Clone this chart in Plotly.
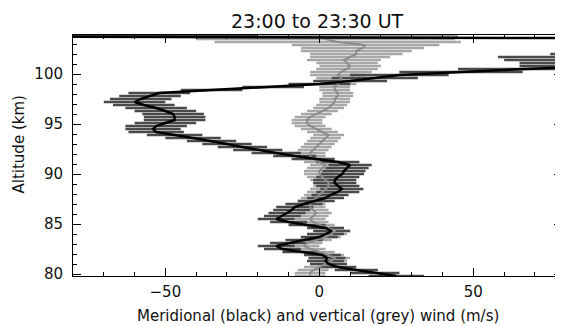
import plotly.graph_objects as go

# Altitude grid (km)
altitude = [79.8, 80.1, 80.4, 80.7, 81.0, 81.3, 81.6, 81.9, 82.2, 82.5,
            82.8, 83.1, 83.4, 83.7, 84.0, 84.3, 84.6, 84.9, 85.2, 85.5,
            85.8, 86.1, 86.4, 86.7, 87.0, 87.3, 87.6, 87.9, 88.2, 88.5,
            88.8, 89.1, 89.4, 89.7, 90.0, 90.3, 90.6, 90.9, 91.2, 91.5,
            91.8, 92.1, 92.4, 92.7, 93.0, 93.3, 93.6, 93.9, 94.2, 94.5,
            94.8, 95.1, 95.4, 95.7, 96.0, 96.3, 96.6, 96.9, 97.2, 97.5,
            97.8, 98.1, 98.4, 98.7, 99.0, 99.3, 99.6, 99.9, 100.2, 100.5,
            100.8, 101.1, 101.4, 101.7, 102.0, 102.3, 102.6, 102.9, 103.2, 103.5,
            103.8]

# Meridional wind (m/s) and its uncertainty
meridional = [25, 18, 12, 6, 3, 2, 2.5, 1, -6, -12,
              -14, -10, -5, 0, 2, 4, 2, -4, -10, -14,
              -12, -10.5, -9, -8, -5, -1, 2, 3.5, 6, 7.3,
              6, 5, 5, 6, 7.5, 8, 9, 10, 6, -2,
              -8, -14, -20, -25, -30, -35, -41, -47, -53, -54,
              -53, -50, -47, -47, -47.5, -50, -53, -57, -60, -58,
              -55, -52, -35, -15, 0, 10, 18, 26, 46, 70,
              95, 110, 105, 100, 110, 130, 140, 150, 160, 170,
              -150]
meridional_err = [9, 8, 7, 6, 6, 6, 6, 6, 6, 6,
                  6, 6, 6, 6, 6, 6, 6, 6, 6, 6,
                  6, 6, 6, 6, 6, 6, 6, 6, 7, 7,
                  7, 7, 7, 7, 7, 7, 7, 7, 7, 7,
                  7, 8, 8, 8, 8, 8, 9, 9, 9, 9,
                  10, 10, 10, 10, 10, 10, 10, 10, 10, 10,
                  10, 10, 10, 10, 10, 12, 14, 16, 20, 25,
                  30, 45, 45, 42, 35, 40, 40, 40, 50, 60,
                  130]

# Vertical wind (m/s) and its uncertainty
vertical = [-3, -3, -2, 0, 2, 4, 5, 3, 0, -3,
            -5, -4, -1, 2, 4, 5, 3, 0, -2, -3,
            -2, -1, -2, -3, -3, -2, -1, 0, 1, 2,
            3, 3, 2, 1, 0, 0, 1, 2, 0, -2,
            -3, -3, -2, -1, 0, 1, 2, 3, 1, -1,
            -3, -4, -4, -3, -1, 1, 3, 4, 5, 5,
            6, 6, 5, 5, 6, 7, 7, 6, 7, 9,
            10, 9, 8, 10, 12, 12, 14, 15, 6, 2,
            0]
vertical_err = [5, 5, 5, 5, 5, 5, 5, 5, 5, 5,
                5, 5, 5, 5, 5, 5, 5, 5, 5, 5,
                5, 5, 5, 5, 5, 5, 5, 5, 5, 5,
                5, 5, 5, 5, 5, 5, 5, 5, 5, 5,
                5, 5, 5, 5, 5, 5, 5, 5, 5, 5,
                5, 5, 5, 5, 5, 5, 5, 5, 5, 5,
                5, 5, 5, 5, 6, 7, 8, 9, 10, 10,
                10, 10, 12, 13, 15, 18, 20, 24, 40, 42,
                45]

title_text = "23:00 to 23:30 UT"
x_title = "Meridional (black) and vertical (grey) wind (m/s)"
y_title = "Altitude (km)"

FONT = "DejaVu Sans"

fig = go.Figure()

# vertical wind error bars (light grey)
fig.add_trace(go.Scatter(
    x=vertical, y=altitude, mode="markers",
    marker=dict(size=0.1, color="rgba(0,0,0,0)"),
    error_x=dict(type="data", array=vertical_err, symmetric=True,
                 width=0, thickness=2.5, color="#a8a8a8"),
    hoverinfo="skip", showlegend=False))

# meridional wind error bars (dark grey)
fig.add_trace(go.Scatter(
    x=meridional, y=altitude, mode="markers",
    marker=dict(size=0.1, color="rgba(0,0,0,0)"),
    error_x=dict(type="data", array=meridional_err, symmetric=True,
                 width=0, thickness=2.5, color="#4a4a4a"),
    hoverinfo="skip", showlegend=False))

# vertical wind line
fig.add_trace(go.Scatter(
    x=vertical, y=altitude, mode="lines",
    line=dict(color="#8c8c8c", width=2),
    showlegend=False))

# meridional wind line
fig.add_trace(go.Scatter(
    x=meridional, y=altitude, mode="lines",
    line=dict(color="#000000", width=2.5),
    showlegend=False))

fig.update_layout(
    width=555, height=318,
    margin=dict(l=65, r=1, t=27, b=50, autoexpand=False),
    paper_bgcolor="white", plot_bgcolor="white",
    font=dict(family=FONT, color="#000000", size=15),
    showlegend=False,
    annotations=[
        dict(text=title_text, xref="paper", yref="paper", x=0.5, y=1,
             yshift=14, showarrow=False, xanchor="center", yanchor="middle",
             font=dict(family=FONT, size=19, color="#111")),
        dict(text=x_title, xref="paper", yref="paper", x=0.5, y=0,
             yshift=-40, showarrow=False, xanchor="center", yanchor="middle",
             font=dict(family=FONT, size=15, color="#111")),
        dict(text=y_title, xref="paper", yref="paper", x=0, y=0.5,
             xshift=-55, yshift=11, showarrow=False, textangle=-90,
             xanchor="center", yanchor="middle",
             font=dict(family=FONT, size=15, color="#111")),
    ],
)

fig.update_xaxes(
    range=[-80, 78.8], showgrid=False, zeroline=False, automargin=False,
    showline=True, linecolor="#000", linewidth=1, mirror="allticks",
    ticks="inside", ticklen=8, tickcolor="#000", tickwidth=1,
    tick0=0, dtick=50, ticklabelstandoff=2,
    minor=dict(ticks="inside", ticklen=4, dtick=10, tick0=0,
               tickcolor="#000", showgrid=False),
    tickfont=dict(family=FONT, size=15, color="#111"),
)
fig.update_yaxes(
    range=[79.8, 103.9], showgrid=False, zeroline=False, automargin=False,
    showline=True, linecolor="#000", linewidth=1, mirror="allticks",
    ticks="inside", ticklen=8, tickcolor="#000", tickwidth=1,
    tick0=0, dtick=5, ticklabelstandoff=6,
    minor=dict(ticks="inside", ticklen=4, dtick=1, tick0=0,
               tickcolor="#000", showgrid=False),
    tickfont=dict(family=FONT, size=15, color="#111"),
)

fig.write_html("out.html")
